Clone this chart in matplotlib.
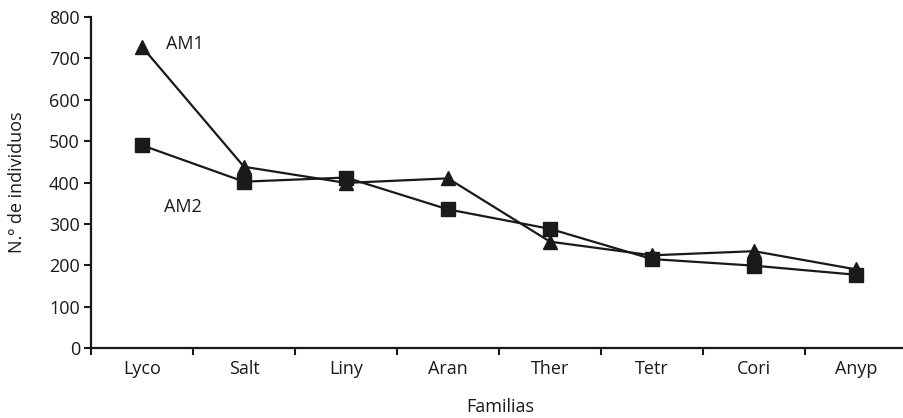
import matplotlib
matplotlib.use("Agg")
import matplotlib.pyplot as plt
import numpy as np

categories = ["Lyco", "Salt", "Liny", "Aran", "Ther", "Tetr", "Cori", "Anyp"]
am1 = [728, 438, 399, 410, 257, 224, 234, 190]
am2 = [490, 402, 412, 335, 288, 215, 199, 177]
yticks = [0, 100, 200, 300, 400, 500, 600, 700, 800]

plt.rcParams['font.family'] = ['Open Sans', 'DejaVu Sans']

fs = 13
fig = plt.figure(figsize=(9.04, 4.18), dpi=100)
ax = fig.add_axes([91/904, (418-348)/418, 816/904, 331/418])

x = np.arange(len(categories))
c = '#1a1a1a'
ax.plot(x, am1, color=c, lw=1.6, marker='^', markersize=10.5, clip_on=False)
ax.plot(x, am2, color=c, lw=1.6, marker='s', markersize=10, clip_on=False)

ax.set_xlim(-0.5, 7.5)
ax.set_ylim(0, 800)
ax.set_yticks(yticks)
ax.set_xticks(x)
ax.set_xticklabels(categories)
ax.set_xticks(np.arange(-0.5, 7.5, 1.0), minor=True)
ax.tick_params(axis='x', which='major', length=0, pad=9, labelsize=fs, colors=c)
ax.tick_params(axis='x', which='minor', length=5, width=1.5, direction='out', color=c)
ax.tick_params(axis='y', length=5, width=1.5, direction='out', labelsize=fs, colors=c, pad=3)

for s in ['top', 'right']:
    ax.spines[s].set_visible(False)
for s in ['left', 'bottom']:
    ax.spines[s].set_linewidth(1.6)
    ax.spines[s].set_color(c)

ax.text(0.235, 735, "AM1", fontsize=fs, color=c, va='center', ha='left')
ax.text(0.215, 340, "AM2", fontsize=fs, color=c, va='center', ha='left')

fig.text(500/904, 1 - 407/418, "Familias", ha='center', va='center', fontsize=fs, color=c)
fig.text(17/904, 1 - 182/418, "N.º de individuos", ha='center', va='center', rotation=90, fontsize=fs, color=c)

fig.savefig("out.png", dpi=100)
